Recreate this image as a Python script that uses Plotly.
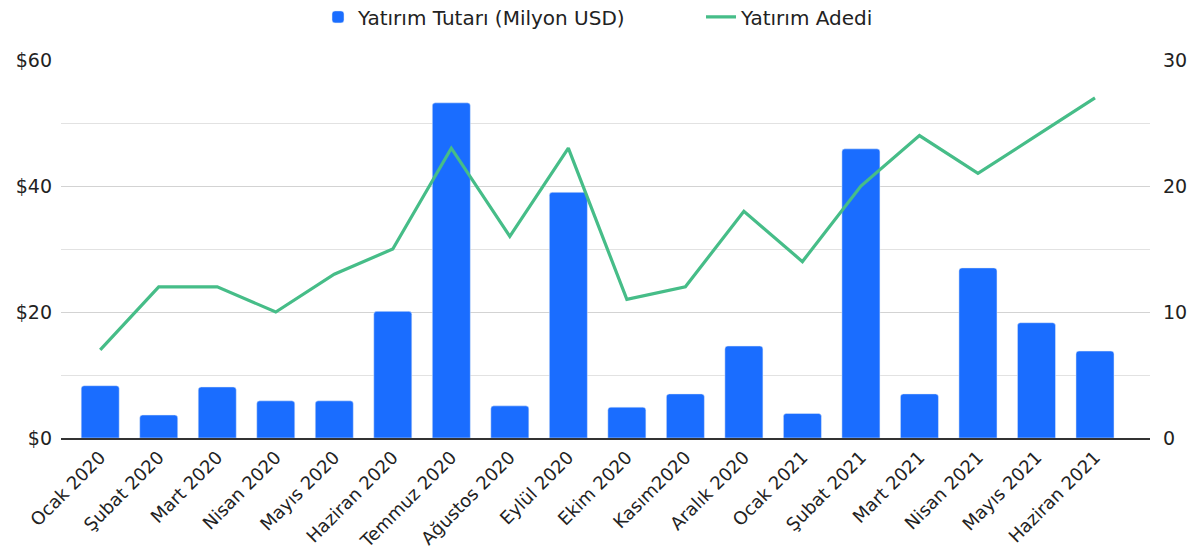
import plotly.graph_objects as go

categories = ["Ocak 2020", "Şubat 2020", "Mart 2020", "Nisan 2020", "Mayıs 2020",
              "Haziran 2020", "Temmuz 2020", "Ağustos 2020", "Eylül 2020", "Ekim 2020",
              "Kasım2020", "Aralık 2020", "Ocak 2021", "Şubat 2021", "Mart 2021",
              "Nisan 2021", "Mayıs 2021", "Haziran 2021"]
tutar = [8.3, 3.65, 8.1, 5.9, 5.9, 20.1, 53.2, 5.1, 39.0, 4.9, 7.0, 14.6, 3.9, 45.9, 7.0, 27.0, 18.3, 13.8]
adet = [7, 12, 12, 10, 13, 15, 23, 16, 23, 11, 12, 18, 14, 20, 24, 21, 24, 27]

left_ticks = [0, 20, 40, 60]
left_labels = ["$0", "$20", "$40", "$60"]
right_ticks = [0, 10, 20, 30]

font = "DejaVu Sans, Liberation Sans, Arial, sans-serif"
fs = 18

fig = go.Figure()
fig.add_trace(go.Bar(x=categories, y=tutar, name="Yatırım Tutarı (Milyon USD)",
                     marker=dict(color="#1a6dff", cornerradius=3), width=0.65, yaxis="y"))
fig.add_trace(go.Scatter(x=categories, y=adet, name="Yatırım Adedi", mode="lines",
                         line=dict(color="#46bd88", width=3.2), yaxis="y2"))

fig.update_layout(
    width=1201, height=551,
    margin=dict(l=61, r=51, t=60, b=113, autoexpand=False),
    paper_bgcolor="white", plot_bgcolor="white",
    font=dict(family=font, size=fs, color="#222"),
    showlegend=True,
    legend=dict(orientation="h", x=0.236, xanchor="left", y=1.114, yanchor="middle",
                entrywidth=338, entrywidthmode="pixels",
                font=dict(size=20, color="#222"), traceorder="normal"),
    xaxis=dict(type="category", range=[-0.67, 17.94], tickangle=-45, automargin=False,
               showline=True, linecolor="#333", linewidth=1.5, showgrid=False,
               ticks="", tickfont=dict(size=fs, color="#222")),
    yaxis=dict(range=[0, 60], tickvals=left_ticks, ticktext=left_labels, automargin=False,
               showgrid=True, gridcolor="#d3d3d3", gridwidth=1,
               minor=dict(dtick=10, tick0=0, showgrid=True, gridcolor="#e2e2e2"),
               zeroline=False, ticks="", tickfont=dict(size=19, color="#222"),
               ticklabelstandoff=8),
    yaxis2=dict(range=[0, 30], tickvals=right_ticks, overlaying="y", side="right",
                automargin=False, showgrid=False, zeroline=False, ticks="",
                tickfont=dict(size=19, color="#222"), ticklabelstandoff=12),
)

fig.write_html("out.html", config={"displayModeBar": False},
               post_script="document.body.style.margin='0';")
